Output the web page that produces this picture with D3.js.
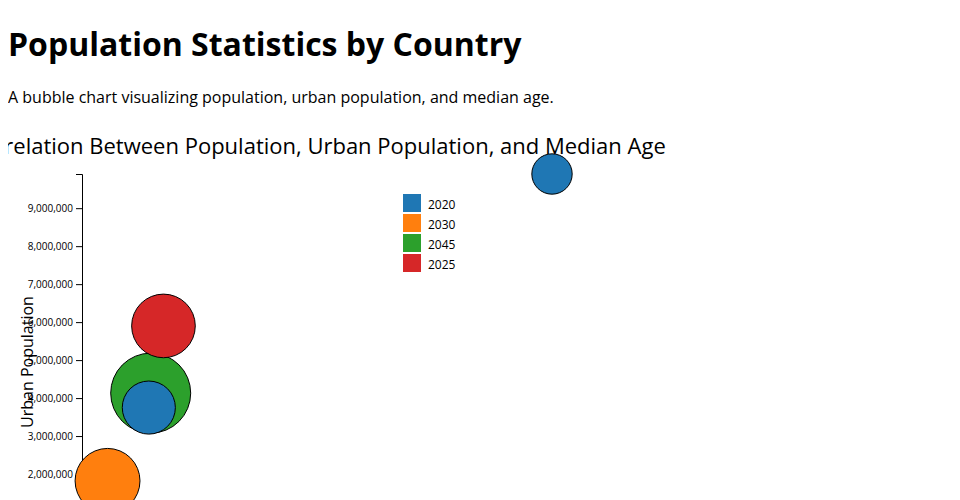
<!DOCTYPE html>
<html>
<head>
<meta charset="utf-8">
<script src="https://cdn.jsdelivr.net/npm/d3@7"></script>
<style>
  body { font-family: 'Open Sans', sans-serif; margin: 8px; overflow: hidden; }
  h1 { font-size: 32px; font-weight: bold; margin-top: 14px; }
  svg { display: block; }
  .axis text { font-family: 'Open Sans', sans-serif; font-size: 10px; }
</style>
</head>
<body>
<h1>Population Statistics by Country</h1>
<p>A bubble chart visualizing population, urban population, and median age.</p>
<div id="chart"></div>
<script>
const countries = ["Country A", "Country B", "Country C", "Country D", "Country E"];
const years = ["2020", "2030", "2045", "2025", "2020"];
const population = [60000000, 3260000, 8770000, 10400000, 8530000];
const urbanPopulation = [9900000, 1820000, 4130000, 5900000, 3750000];
const medianAge = [22.2, 35.7, 44, 35, 29.2];

const data = countries.map((c, i) => ({
  country: c, year: years[i], population: population[i],
  urban: urbanPopulation[i], age: medianAge[i]
}));

const margin = { top: 50, right: 30, bottom: 80, left: 74 };
const width = 470, height = 376;

const svg = d3.select("#chart").append("svg")
  .attr("width", 940)
  .attr("height", height + margin.top);

const g = svg.append("g").attr("transform", `translate(${margin.left},${margin.top})`);

const x = d3.scaleLinear().domain([0, d3.max(data, d => d.population)]).range([0, width]);
const y = d3.scaleLinear().domain([0, d3.max(data, d => d.urban)]).range([height, 0]);
const r = d3.scaleLinear().domain([0, d3.max(data, d => d.age)]).range([0, 40]);
const color = d3.scaleOrdinal(d3.schemeCategory10).domain(Array.from(new Set(years)));

g.append("g").attr("class", "axis")
  .call(d3.axisLeft(y).tickFormat(d3.format(",")));

g.append("text")
  .attr("transform", "rotate(-90)")
  .attr("x", -height / 2)
  .attr("y", -49)
  .attr("text-anchor", "middle")
  .style("font-family", "'Open Sans', sans-serif")
  .style("font-size", "16px")
  .text("Urban Population");

g.append("text")
  .attr("x", width / 2)
  .attr("y", -20.5)
  .attr("text-anchor", "middle")
  .style("font-family", "'Open Sans', sans-serif")
  .style("font-size", "22px")
  .text("Correlation Between Population, Urban Population, and Median Age");

g.selectAll("circle.bubble").data(data).enter().append("circle")
  .attr("class", "bubble")
  .attr("cx", d => x(d.population))
  .attr("cy", d => y(d.urban))
  .attr("r", d => r(d.age))
  .attr("fill", d => color(d.year))
  .attr("stroke", "black")
  .attr("stroke-width", 1);

const legend = g.append("g").attr("transform", "translate(321,20)");
const items = legend.selectAll("g").data(color.domain()).enter().append("g")
  .attr("transform", (d, i) => `translate(0,${i * 20})`);
items.append("rect").attr("width", 18).attr("height", 18).attr("fill", d => color(d));
items.append("text").attr("x", 25).attr("y", 9).attr("dy", "0.5em")
  .style("font-family", "'Open Sans', sans-serif").style("font-size", "12px")
  .text(d => d);
</script>
</body>
</html>
